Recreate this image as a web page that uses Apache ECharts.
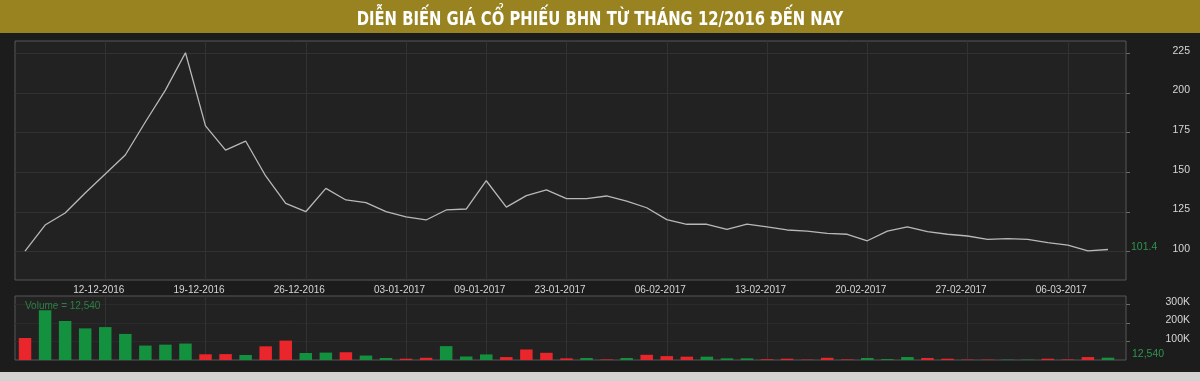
<!DOCTYPE html>
<html>
<head>
<meta charset="utf-8">
<style>
html,body{margin:0;padding:0;background:#1c1c1c;}
#chart{width:1200px;height:381px;}
</style>
<script src="https://cdn.jsdelivr.net/npm/echarts@6/dist/echarts.min.js"></script>
</head>
<body>
<div id="chart"></div>
<script>
var chartTitle = 'DIỄN BIẾN GIÁ CỔ PHIẾU BHN TỪ THÁNG 12/2016 ĐẾN NAY';

var dates = [
  '06-12-2016','07-12-2016','08-12-2016','09-12-2016','12-12-2016','13-12-2016','14-12-2016','15-12-2016','16-12-2016',
  '19-12-2016','20-12-2016','21-12-2016','22-12-2016','23-12-2016','26-12-2016','27-12-2016','28-12-2016','29-12-2016','30-12-2016',
  '03-01-2017','04-01-2017','05-01-2017','06-01-2017','09-01-2017','10-01-2017','11-01-2017','12-01-2017',
  '23-01-2017','24-01-2017','25-01-2017','02-02-2017','03-02-2017',
  '06-02-2017','07-02-2017','08-02-2017','09-02-2017','10-02-2017','13-02-2017','14-02-2017','15-02-2017','16-02-2017','17-02-2017',
  '20-02-2017','21-02-2017','22-02-2017','23-02-2017','24-02-2017','27-02-2017','28-02-2017','01-03-2017','02-03-2017','03-03-2017',
  '06-03-2017','07-03-2017','08-03-2017'
];

var prices = [
  100.4,116.8,124.4,137,148.9,160.9,181.7,201.8,225.3,179.3,
  164,169.7,147.7,130.5,125.2,139.9,132.6,130.9,125.2,121.9,
  120,126.3,126.9,144.7,128.1,135.3,138.9,133.4,133.4,135.1,
  131.9,127.7,120.2,117.3,117.3,114.1,117.4,115.7,113.7,113,
  111.6,111,106.9,113,115.7,112.6,111,109.9,107.8,108.2,
  107.8,105.7,104.2,100.6,101.4
];

var volumes = [
  119000,269000,211000,171000,178000,141000,78000,83000,89000,31000,
  32000,27000,74000,105000,38000,40000,42000,24000,11000,7000,
  12000,75000,19000,30000,16000,57000,39000,9000,11000,3000,
  11000,28000,21000,18000,18000,9000,9000,4000,7000,2000,
  12000,3000,11000,5000,16000,11000,7000,2000,2000,2000,
  2000,7000,3000,16000,12540
];

var volDir = [
  'd','u','u','u','u','u','u','u','u','d',
  'd','u','d','d','u','u','d','u','u','d',
  'd','u','u','u','d','d','d','d','u','d',
  'u','d','d','d','u','u','u','d','d','d',
  'd','d','u','u','u','d','d','d','d','u',
  'u','d','d','d','u'
];

var xTickLabels = ['12-12-2016','19-12-2016','26-12-2016','03-01-2017','09-01-2017','23-01-2017','06-02-2017','13-02-2017','20-02-2017','27-02-2017','06-03-2017'];
var priceTicks = [100,125,150,175,200,225];
var volumeTicks = [100000,200000,300000];

var xTickIdx = xTickLabels.map(function(l){ return dates.indexOf(l); });
var lastPrice = prices[prices.length-1];
var lastVolume = volumes[volumes.length-1];
function fmtNum(v){ return String(v).replace(/\B(?=(\d{3})+(?!\d))/g, ','); }

var UP = '#14913f', DOWN = '#e8262b';
var GRIDLINE = '#323232';
var LABEL = '#d6d6d6';
var GREEN_TXT = '#2f9450';
var FONT = '"Liberation Sans",Arial,sans-serif';

var chart = echarts.init(document.getElementById('chart'), null, {renderer:'canvas'});
var option = {
  backgroundColor: '#1c1c1c',
  animation: false,
  graphic: [
    {type:'rect', z:1, shape:{x:0,y:0,width:1200,height:33}, style:{fill:'#998320'}},
    {type:'rect', z:1, shape:{x:0,y:372,width:1200,height:9}, style:{fill:'#d2d2d2'}},
    {type:'text', z:10, x:600, y:20, scaleX:0.866,
     style:{text: chartTitle, fill:'#ffffff', font:'bold 19px "DejaVu Sans Condensed","DejaVu Sans",sans-serif', textAlign:'center', textVerticalAlign:'middle'}}
  ],
  title: [
    {text: 'Volume = ' + fmtNum(lastVolume), left:20, top:295,
     textStyle:{color:'#2c8044', fontFamily:FONT, fontWeight:'normal', fontSize:10, lineHeight:12}}
  ],
  grid: [
    {left:15, top:41, width:1111, height:239, show:true, backgroundColor:'#222222', borderColor:'#575757', borderWidth:1, containLabel:false},
    {left:15, top:296, width:1111, height:64, show:true, backgroundColor:'#222222', borderColor:'#575757', borderWidth:1, containLabel:false}
  ],
  xAxis: [
    {type:'value', gridIndex:0, min:-0.5, max:54.9,
     axisLine:{show:false, onZero:false},
     axisTick:{show:false, customValues:xTickIdx},
     splitLine:{show:true, lineStyle:{color:GRIDLINE, width:1}},
     axisLabel:{show:true, customValues:xTickIdx, color:LABEL, fontSize:10, fontFamily:FONT, margin:5, padding:[0,13,0,0],
       formatter:function(v){ return dates[Math.round(v)] || ''; }}},
    {type:'value', gridIndex:1, min:-0.5, max:54.9,
     axisLine:{show:false, onZero:false},
     axisTick:{show:false, customValues:xTickIdx},
     splitLine:{show:true, lineStyle:{color:GRIDLINE, width:1}},
     axisLabel:{show:false}}
  ],
  yAxis: [
    {type:'value', gridIndex:0, position:'right', min:82.2, max:232.7,
     axisLine:{show:false, onZero:false},
     axisTick:{show:true, length:4, customValues:priceTicks, lineStyle:{color:'#6a6a6a'}},
     splitLine:{show:true, lineStyle:{color:GRIDLINE, width:1}},
     axisLabel:{customValues:priceTicks, color:LABEL, fontSize:10.5, fontFamily:FONT, margin:64, align:'right', verticalAlign:'bottom', lineHeight:5}},
    {type:'value', gridIndex:0, position:'right', min:82.2, max:232.7,
     axisLine:{show:false, onZero:false}, axisTick:{show:false, customValues:[lastPrice]}, splitLine:{show:false},
     axisLabel:{customValues:[lastPrice], color:GREEN_TXT, fontSize:10.5, fontFamily:FONT, margin:5, align:'left', verticalAlign:'bottom', lineHeight:5,
       formatter:function(v){ return String(v); }}},
    {type:'value', gridIndex:1, position:'right', min:0, max:346000,
     axisLine:{show:false, onZero:false},
     axisTick:{show:true, length:4, customValues:volumeTicks, lineStyle:{color:'#6a6a6a'}},
     splitLine:{show:true, lineStyle:{color:'#2a2a2a', width:1}},
     axisLabel:{customValues:volumeTicks, color:LABEL, fontSize:10.5, fontFamily:FONT, margin:64, align:'right', verticalAlign:'bottom', lineHeight:5,
       formatter:function(v){ return (v/1000) + 'K'; }}},
    {type:'value', gridIndex:1, position:'right', min:0, max:346000,
     axisLine:{show:false, onZero:false}, axisTick:{show:false, customValues:[lastVolume]}, splitLine:{show:false},
     axisLabel:{customValues:[lastVolume], color:GREEN_TXT, fontSize:10.5, fontFamily:FONT, margin:6, align:'left', verticalAlign:'bottom', lineHeight:7,
       formatter:function(v){ return fmtNum(v); }}}
  ],
  series: [
    {type:'line', xAxisIndex:0, yAxisIndex:0, showSymbol:false, symbol:'none',
     lineStyle:{color:'#b8b8b8', width:1.3},
     data: prices.map(function(v,i){ return [i, v]; })},
    {type:'bar', xAxisIndex:1, yAxisIndex:2, barWidth:12.5,
     itemStyle:{color:function(p){ return volDir[p.dataIndex]==='u' ? UP : DOWN; }},
     data: volumes.map(function(v,i){ return [i, v]; })}
  ]
};
chart.setOption(option);
</script>
</body>
</html>
